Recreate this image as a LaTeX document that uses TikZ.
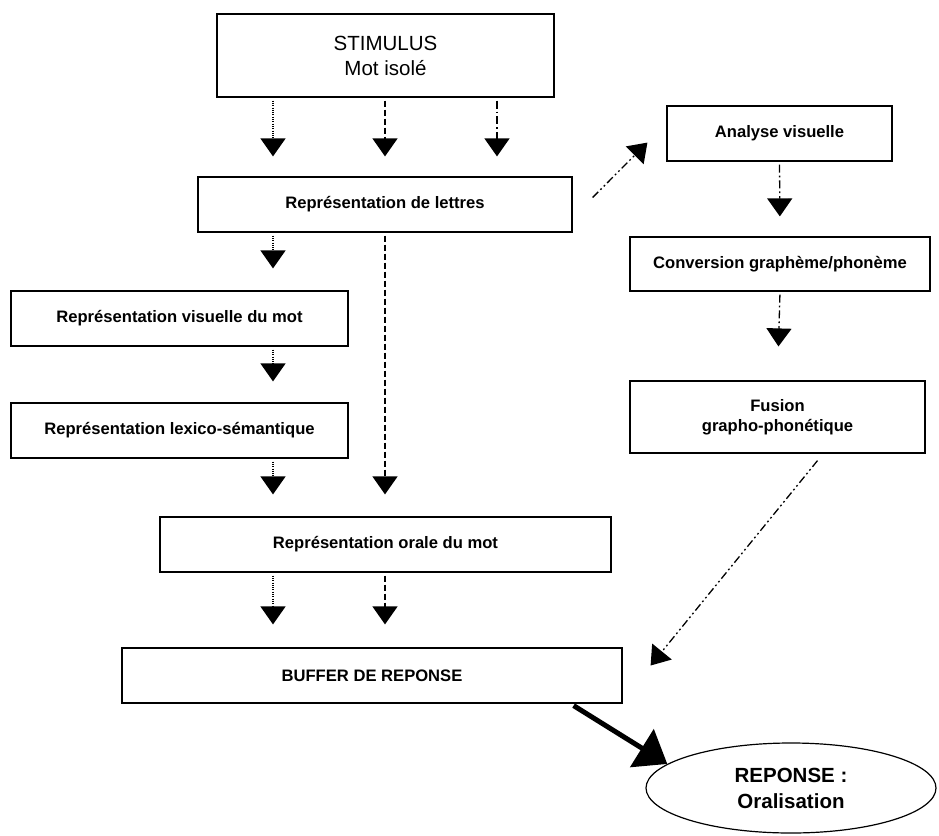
\documentclass[tikz,border=0pt]{standalone}
\usepackage{fontspec}
\setmainfont{Liberation Sans}
\usepackage{tikz}
\usetikzlibrary{arrows.meta,calc,shapes.geometric}
\tikzstyle{bloc}=[rectangle,draw=black,line width=1.2pt,inner sep=0pt,
align=center,font=\bfseries\fontsize{16.6}{20}\selectfont]
\tikzstyle{sortie}=[ellipse,draw=black,line width=1.2pt,inner sep=0pt,
minimum width=290pt,minimum height=90pt,align=center,
font=\bfseries\fontsize{20.5}{26}\selectfont]
\tikzstyle{fleche}=[->,line width=1.3pt,shorten <=3pt]
\tikzstyle{pointille}=[fleche,dash pattern=on 1pt off 1.3pt]
\tikzstyle{tirets}=[fleche,dash pattern=on 6pt off 3pt]
\tikzstyle{tiretpoint}=[fleche,dash pattern=on 8pt off 3pt on 1.8pt off 3pt]
\tikzstyle{tiretpointpoint}=[fleche,
dash pattern=on 8pt off 3pt on 1.8pt off 3pt on 1.8pt off 3pt]

\begin{document}
\begin{tikzpicture}[>={Triangle[width=25pt,length=18pt]},x=1pt,y=-1pt]
    \useasboundingbox (0,0) rectangle (939,835);
    % columns of the vertical arrows
    \coordinate (colA) at (273,0);
    \coordinate (colB) at (385,0);
    \coordinate (colC) at (497,0);
    % left part: lexical route
    \node (stim) [bloc,minimum width=337pt,minimum height=83pt,
      font=\fontsize{20.5}{25}\selectfont] at (385.5,55.5) {STIMULUS\\Mot isolé};
    \node (lettres) [bloc,minimum width=374pt,minimum height=55pt]
      at (385,204.5) {Représentation de lettres};
    \node (vismot) [bloc,minimum width=337pt,minimum height=55pt]
      at (179.5,318.5) {Représentation visuelle du mot};
    \node (lexsem) [bloc,minimum width=337pt,minimum height=55pt]
      at (179.5,430.5) {Représentation lexico-sémantique};
    \node (orale) [bloc,minimum width=451pt,minimum height=55pt]
      at (385.5,544.5) {Représentation orale du mot};
    \node (buffer) [bloc,minimum width=500pt,minimum height=55pt]
      at (372,675.5) {BUFFER DE REPONSE};
    % right part: phonological route
    \node (analyse) [bloc,minimum width=225pt,minimum height=55pt]
      at (779.5,133.5) {Analyse visuelle};
    \node (conv) [bloc,minimum width=300pt,minimum height=54pt]
      at (780,264) {Conversion graphème/phonème};
    \node (fusion) [bloc,minimum width=295pt,minimum height=72pt]
      at (777.5,417) {Fusion\\grapho-phonétique};
    % output
    \node (rep) [sortie] at (791,788) {REPONSE :\\Oralisation};
    % The boxes are now connected through arrows:
    \draw[pointille,shorten >=20pt] (stim.south -| colA) -- (lettres.north -| colA);
    \draw[tirets,shorten >=20pt] (stim.south -| colB) -- (lettres.north -| colB);
    \draw[tiretpoint,shorten >=20pt] (stim.south -| colC) -- (lettres.north -| colC);
    \draw[pointille,shorten >=22pt] (lettres.south -| colA) -- (vismot.north -| colA);
    \draw[pointille,shorten >=21pt] (vismot.south -| colA) -- (lexsem.north -| colA);
    \draw[pointille,shorten >=22pt] (lexsem.south -| colA) -- (orale.north -| colA);
    \draw[tirets,shorten >=22pt] (lettres.south -| colB) -- (orale.north -| colB);
    \draw[pointille,shorten >=23pt] (orale.south -| colA) -- (buffer.north -| colA);
    \draw[tirets,shorten >=23pt] (orale.south -| colB) -- (buffer.north -| colB);
    \draw[tiretpointpoint,shorten <=0pt]
      ($(lettres.east)+(20,-7)$) -- ($(analyse.south west)+(-19,-19)$);
    \draw[tiretpoint,shorten >=20pt] (analyse.south) -- (conv.north);
    \draw[tiretpoint,shorten >=34pt] (conv.south) -- (fusion.north);
    \draw[tiretpointpoint,shorten <=0pt]
      ($(fusion.south)+(40,7)$) -- ($(buffer.east)+(28,-10)$);
    \draw[->,>={Triangle[width=44pt,length=30pt]},line width=5pt]
      ($(buffer.south east)+(-49,2)$) -- (rep.169);
\end{tikzpicture}
\end{document}
